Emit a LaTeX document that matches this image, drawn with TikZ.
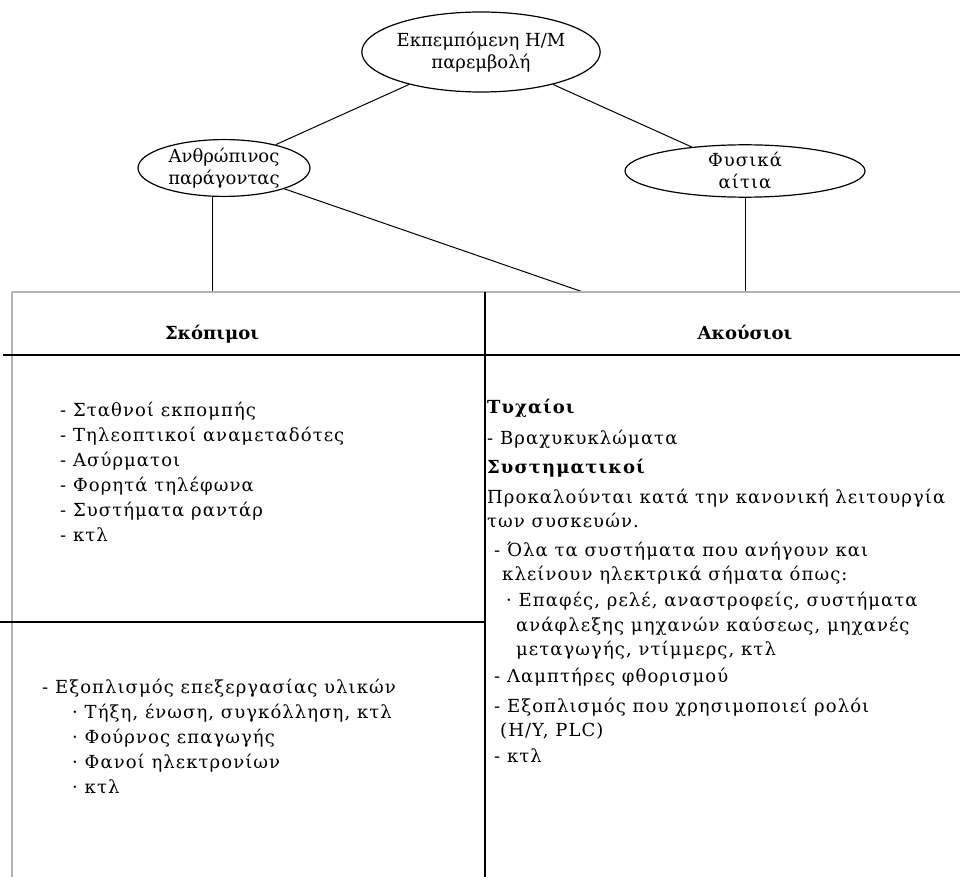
\documentclass[tikz,border=0pt]{standalone}
\usepackage{fontspec}
\setmainfont{DejaVu Serif}
\newfontfamily\widefont[LetterSpace=6]{DejaVu Serif}
\usetikzlibrary{shapes.geometric}
\newcommand\fsz{\fontsize{18}{22}\selectfont}
\newcommand\wfsz{\widefont\fontsize{18}{22}\selectfont}
\tikzset{
  ell/.style={ellipse, draw, line width=1.2pt, inner sep=0pt, align=center},
  txt/.style={anchor=base west, inner sep=0pt, font=\wfsz},
  btxt/.style={anchor=base west, inner sep=0pt, font=\wfsz\bfseries},
  hdr/.style={anchor=base, inner sep=0pt, font=\fsz\bfseries},
  conn/.style={line width=1pt},
  rule/.style={line width=1.1pt},
  thickrule/.style={line width=1.6pt},
  lightrule/.style={line width=1.4pt, black!30},
}
\begin{document}
\begin{tikzpicture}[x=1pt,y=-1pt]
\useasboundingbox (0,0) rectangle (960,877);
\fill[white] (0,0) rectangle (960,877);
% ellipses
\node[ell, font=\fsz, minimum width=226pt, minimum height=80pt] (top) at (481,52) {Εκπεμπόμενη Η/Μ\\παρεμβολή};
\node[ell, font=\fsz, minimum width=172pt, minimum height=50pt] (left) at (224,168) {Ανθρώπινος\\παράγοντας};
\node[ell, font=\wfsz, minimum width=240pt, minimum height=52pt] (right) at (745,171) {Φυσικά\\αίτια};
% coordinates on table top
\coordinate (lt) at (212,292);
\coordinate (rt) at (745,292);
\coordinate (dt) at (583,292);
% connectors
\draw[conn] (top) -- (left);
\draw[conn] (top) -- (right);
\draw[conn] (lt |- left.south) -- (lt);
\draw[conn] (right.south) -- (rt);
\draw[conn] (left) -- (dt);
% table
\coordinate (tl) at (12,292);
\coordinate (tr) at (960,292);
\coordinate (bl) at (12,877);
\coordinate (mt) at (485,292);
\coordinate (mb) at (485,877);
\coordinate (hl) at (3,355);
\coordinate (hr) at (960,355);
\coordinate (ml) at (0,622);
\coordinate (mr) at (485,622);
\draw[lightrule] (tl) -- (tr);
\draw[lightrule] (tl) -- (bl);
\draw[rule] (mt) -- (mb);
\draw[thickrule] (hl) -- (hr);
\draw[thickrule] (ml) -- (mr);
% headers
\node[hdr] (h1) at (212,339) {Σκόπιμοι};
\node[hdr] (h2) at (745,339) {Ακούσιοι};
% left column
\node[txt] (a1) at (60,416) {- Σταθνοί εκπομπής};
\node[txt] (a2) at (60,441) {- Τηλεοπτικοί αναμεταδότες};
\node[txt] (a3) at (60,466) {- Ασύρματοι};
\node[txt] (a4) at (60,491) {- Φορητά τηλέφωνα};
\node[txt] (a5) at (60,516) {- Συστήματα ραντάρ};
\node[txt] (a6) at (60,541) {- κτλ};
\node[txt] (b1) at (42,693) {- Εξοπλισμός επεξεργασίας υλικών};
\node[txt] (b2) at (72,718) {· Τήξη, ένωση, συγκόλληση, κτλ};
\node[txt] (b3) at (72,743) {· Φούρνος επαγωγής};
\node[txt] (b4) at (72,768) {· Φανοί ηλεκτρονίων};
\node[txt] (b5) at (72,793) {· κτλ};
% right column
\node[btxt] (r1) at (487,413) {Τυχαίοι};
\node[txt] (r2) at (487,444) {- Βραχυκυκλώματα};
\node[btxt] (r3) at (487,473) {Συστηματικοί};
\node[txt] (r4) at (487,503) {Προκαλούνται κατά την κανονική λειτουργία};
\node[txt] (r5) at (487,527) {των συσκευών.};
\node[txt] (r6) at (494,556) {- Όλα τα συστήματα που ανήγουν και};
\node[txt] (r7) at (502,580) {κλείνουν ηλεκτρικά σήματα όπως:};
\node[txt] (r8) at (506,606) {· Επαφές, ρελέ, αναστροφείς, συστήματα};
\node[txt] (r9) at (516,631) {ανάφλεξης μηχανών καύσεως, μηχανές};
\node[txt] (r10) at (516,655) {μεταγωγής, ντίμμερς, κτλ};
\node[txt] (r11) at (494,682) {- Λαμπτήρες φθορισμού};
\node[txt] (r12) at (494,712) {- Εξοπλισμός που χρησιμοποιεί ρολόι};
\node[txt] (r13) at (500,736) {(H/Y, PLC)};
\node[txt] (r14) at (494,762) {- κτλ};
\end{tikzpicture}
\end{document}
